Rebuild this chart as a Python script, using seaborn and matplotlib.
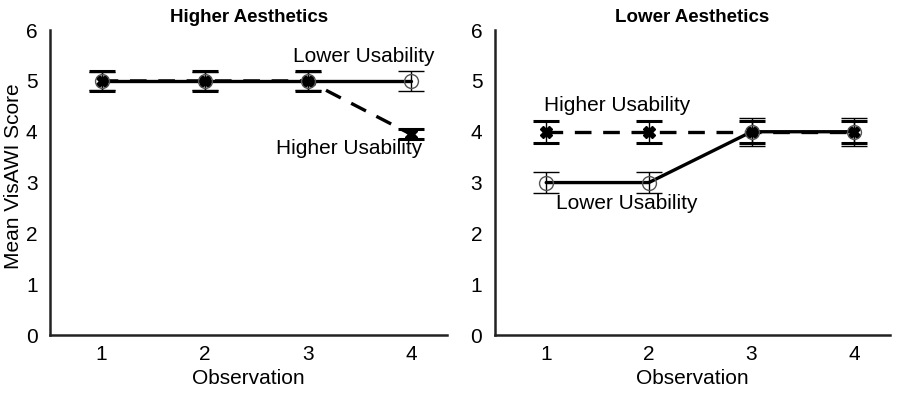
import pandas as pd
import seaborn as sns
import matplotlib.pyplot as plt

observations = [1, 2, 3, 4]
panels = ["Higher Aesthetics", "Lower Aesthetics"]

# means and error bar half-widths
higher_ha_mean = [5.0, 5.0, 5.0, 3.95]
higher_ha_err = [0.2, 0.2, 0.2, 0.1]
lower_ha_mean = [5.0, 5.0, 5.0, 5.0]
lower_ha_err = [0.18, 0.18, 0.18, 0.2]

higher_la_mean = [4.0, 4.0, 4.0, 4.0]
higher_la_err = [0.22, 0.22, 0.22, 0.22]
lower_la_mean = [3.0, 3.0, 4.0, 4.0]
lower_la_err = [0.2, 0.2, 0.28, 0.28]

rows = []
for panel, hm, he, lm, le in [
    (panels[0], higher_ha_mean, higher_ha_err, lower_ha_mean, lower_ha_err),
    (panels[1], higher_la_mean, higher_la_err, lower_la_mean, lower_la_err),
]:
    for i, obs in enumerate(observations):
        rows.append({"panel": panel, "obs": obs, "usability": "Higher Usability", "mean": hm[i], "err": he[i]})
        rows.append({"panel": panel, "obs": obs, "usability": "Lower Usability", "mean": lm[i], "err": le[i]})
df = pd.DataFrame(rows)

sns.set_style("white")
plt.rcParams["font.family"] = ["Liberation Sans", "DejaVu Sans"]
plt.rcParams["text.color"] = "black"
plt.rcParams["axes.labelcolor"] = "black"
plt.rcParams["xtick.color"] = "black"
plt.rcParams["ytick.color"] = "black"

fig = plt.figure(figsize=(9.13, 3.96), dpi=100)
ax1 = fig.add_axes([0.0548, 0.154, 0.435, 0.77])
ax2 = fig.add_axes([0.542, 0.154, 0.433, 0.77])

styles = {
    "Higher Usability": dict(marker="X", ms=8, mfc="black", mec="black", capthick=2.2),
    "Lower Usability": dict(marker="o", ms=10, mfc="none", mec="#555555", capthick=1.0),
}

labels = {
    panels[0]: [("Lower Usability", 2.86, 5.49), ("Higher Usability", 2.69, 3.67)],
    panels[1]: [("Higher Usability", 0.98, 4.51), ("Lower Usability", 1.1, 2.59)],
}

for ax, panel in zip([ax1, ax2], panels):
    sub = df[df["panel"] == panel]
    sns.lineplot(
        data=sub, x="obs", y="mean", hue="usability", style="usability",
        hue_order=["Higher Usability", "Lower Usability"],
        palette={"Higher Usability": "black", "Lower Usability": "black"},
        dashes={"Higher Usability": (5, 3.5), "Lower Usability": ""},
        markers=False, linewidth=2.4, legend=False, ax=ax,
    )
    for name, grp in sub.groupby("usability"):
        st = styles[name]
        ax.errorbar(
            grp["obs"], grp["mean"], yerr=grp["err"], fmt="none",
            ecolor="black", elinewidth=1.0, capsize=9.5, capthick=st["capthick"], zorder=3,
        )
        ax.plot(grp["obs"], grp["mean"], linestyle="none", marker=st["marker"],
                ms=st["ms"], mfc=st["mfc"], mec=st["mec"], mew=1.0, zorder=4)
    for txt, x, y in labels[panel]:
        ax.text(x, y, txt, ha="left", va="center", fontsize=15)
    ax.set_xlim(0.5, 4.35)
    ax.set_ylim(0, 6)
    ax.set_xticks(observations)
    ax.set_yticks(range(0, 7))
    ax.tick_params(length=0, labelsize=15)
    ax.tick_params(axis="y", pad=9)
    ax.tick_params(axis="x", pad=7)
    ax.set_xlabel("Observation", fontsize=15, labelpad=4)
    ax.set_ylabel("")
    ax.set_title(panel, fontsize=13.5, fontweight="bold", pad=6)
    for s in ["top", "right"]:
        ax.spines[s].set_visible(False)
    for s in ["left", "bottom"]:
        ax.spines[s].set_color("#222222")
        ax.spines[s].set_linewidth(1.8)

ax1.set_ylabel("Mean VisAWI Score", fontsize=15)
ax1.yaxis.set_label_coords(-0.068, 0.52)

fig.savefig("out.png", dpi=100)
